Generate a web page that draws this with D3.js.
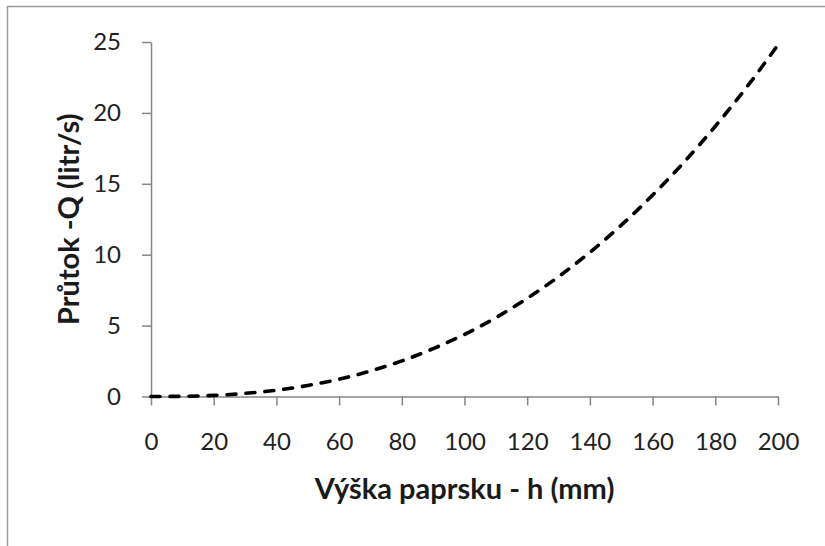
<!DOCTYPE html>
<html>
<head>
<meta charset="utf-8">
<script src="https://cdn.jsdelivr.net/npm/d3@7/dist/d3.min.js"></script>
<style>
  html, body { margin: 0; padding: 0; background: #fff; }
  svg { display: block; }
  .tick text { font-family: Lato, "Open Sans", sans-serif; font-size: 24px; fill: #222; }
  .axis-title { font-family: Lato, "Open Sans", sans-serif; font-weight: bold; font-size: 29px; fill: #1a1a1a; }
</style>
</head>
<body>
<script>
// Beam height h (mm) and the corresponding flow rate Q (litr/s)
const heights = [0, 10, 20, 30, 40, 50, 60, 70, 80, 90, 100, 110, 120, 130, 140, 150, 160, 170, 180, 190, 200];
const flows = [0, 0.014, 0.078, 0.22, 0.44, 0.78, 1.22, 1.80, 2.51, 3.37, 4.38, 5.56, 6.92, 8.45, 10.17, 12.08, 14.20, 16.52, 19.06, 21.81, 24.8];

const xTicks = [0, 20, 40, 60, 80, 100, 120, 140, 160, 180, 200];
const yTicks = [0, 5, 10, 15, 20, 25];

const xTitle = "Výška paprsku - h (mm)";
const yTitle = "Průtok -Q (litr/s)";

const W = 825, H = 546;
const plot = { left: 151, right: 778, top: 42, bottom: 396.5 };

const svg = d3.select("body").append("svg")
  .attr("width", W).attr("height", H);

// chart area frame
svg.append("rect")
  .attr("x", 7.5).attr("y", 6.5)
  .attr("width", W + 20).attr("height", H + 20)
  .attr("fill", "#fff")
  .attr("stroke", "#9a9a9a")
  .attr("stroke-width", 1.5);

const x = d3.scaleLinear().domain([0, 200]).range([plot.left, plot.right]);
const y = d3.scaleLinear().domain([0, 25]).range([plot.bottom, plot.top]);

const axisColor = "#868686";

const gx = svg.append("g")
  .attr("transform", `translate(0,${plot.bottom})`)
  .call(d3.axisBottom(x).tickValues(xTicks).tickSize(9).tickPadding(27).tickSizeOuter(0).tickFormat(d3.format("d")));
const gy = svg.append("g")
  .attr("transform", `translate(${plot.left},0)`)
  .call(d3.axisLeft(y).tickValues(yTicks).tickSize(9).tickPadding(21).tickSizeOuter(0).tickFormat(d3.format("d")));

[gx, gy].forEach(g => {
  g.select(".domain").attr("stroke", axisColor).attr("stroke-width", 1.5);
  g.selectAll(".tick line").attr("stroke", axisColor).attr("stroke-width", 1.5);
  g.attr("font-family", null).attr("font-size", null);
});

// Q(h) curve, dashed
const line = d3.line()
  .x((d, i) => x(heights[i]))
  .y(d => y(d))
  .curve(d3.curveMonotoneX);

svg.append("path")
  .datum(flows)
  .attr("d", line)
  .attr("fill", "none")
  .attr("stroke", "#000")
  .attr("stroke-width", 3.6)
  .attr("stroke-linecap", "round")
  .attr("stroke-dasharray", "9,10");

svg.append("text")
  .attr("class", "axis-title")
  .attr("x", (plot.left + plot.right) / 2)
  .attr("y", 499)
  .attr("text-anchor", "middle")
  .text(xTitle);

svg.append("text")
  .attr("class", "axis-title")
  .attr("transform", `translate(79,${(plot.top + plot.bottom) / 2}) rotate(-90)`)
  .attr("text-anchor", "middle")
  .text(yTitle);
</script>
</body>
</html>
